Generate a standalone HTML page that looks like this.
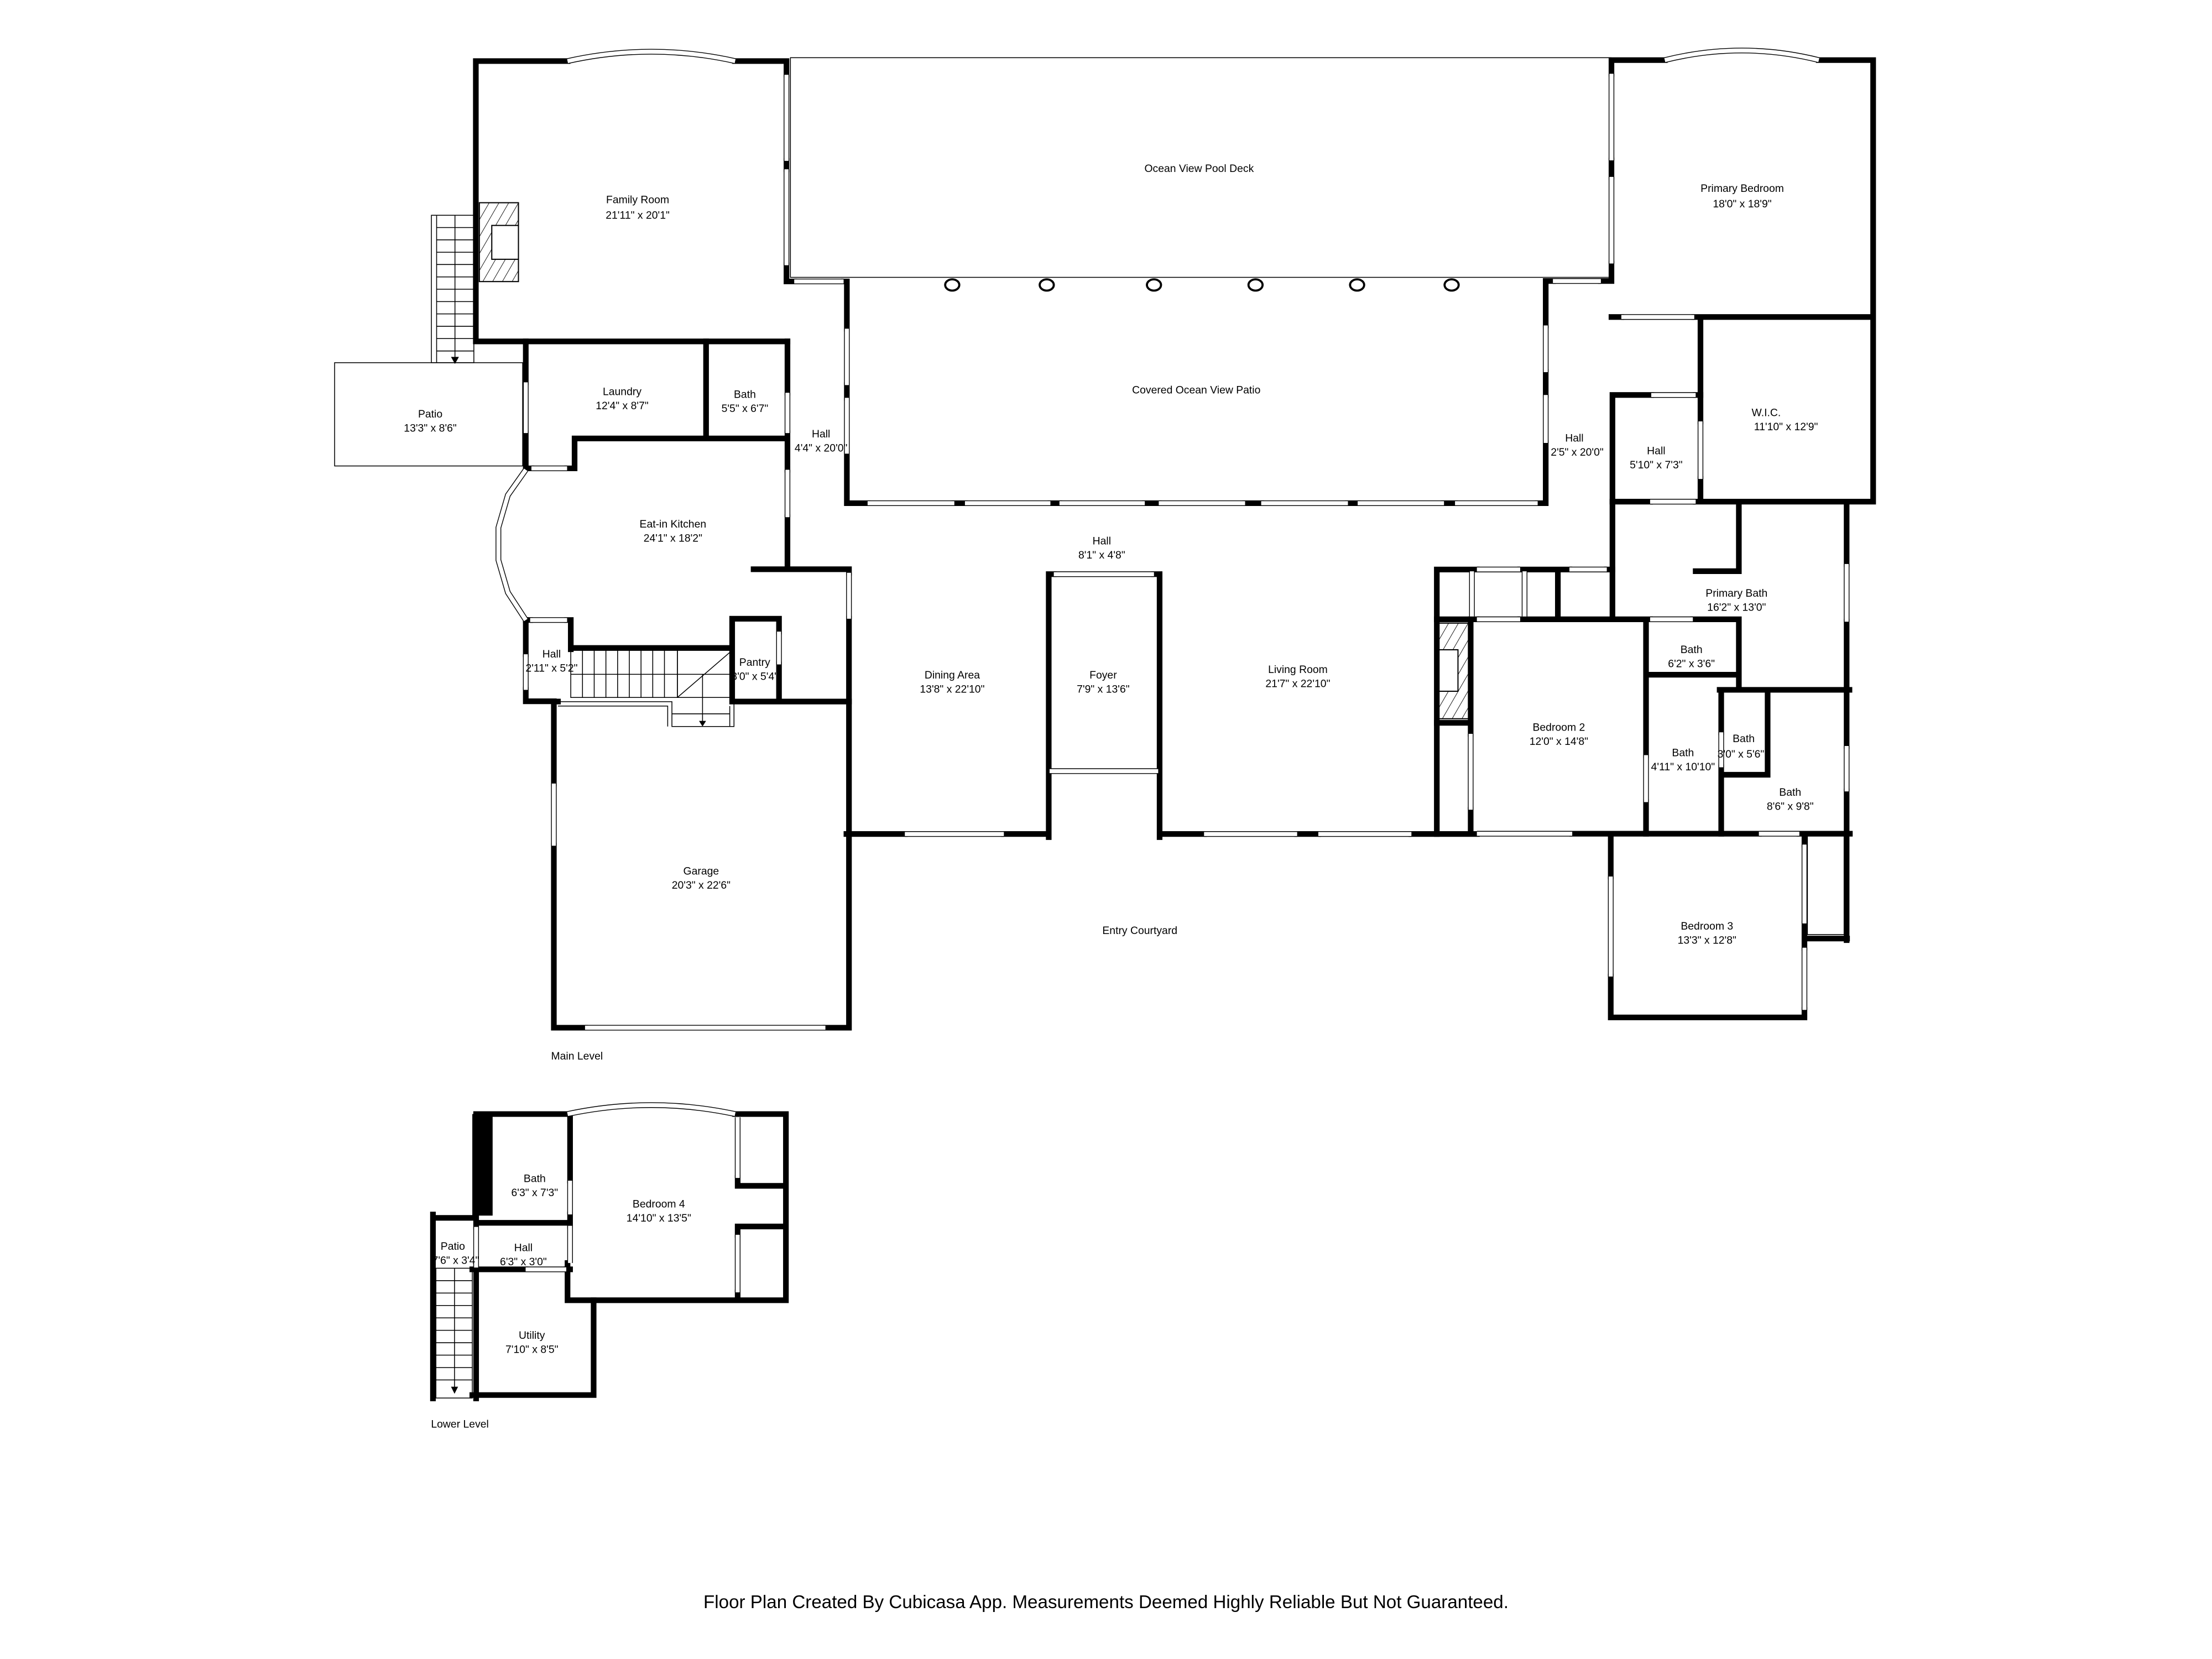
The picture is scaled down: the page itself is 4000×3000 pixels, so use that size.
<!DOCTYPE html>
<html><head><meta charset="utf-8"><style>
html,body{margin:0;padding:0;background:#fff}
svg{display:block}
text{font-family:"Liberation Sans",sans-serif;fill:#000;text-anchor:middle}
</style></head><body>
<svg width="4000" height="3000" viewBox="0 0 1568 1176" preserveAspectRatio="none" xmlns="http://www.w3.org/2000/svg" xmlns:xlink="http://www.w3.org/1999/xlink">
<defs>
<pattern id="h" width="6" height="6" patternUnits="userSpaceOnUse" patternTransform="rotate(30)"><line x1="0" y1="0" x2="0" y2="6" stroke="#000" stroke-width="0.7"/></pattern>
<g id="win" fill="none">
<path d="M402.3,43.3 Q461.7,30 521.1,43.3"/>
<path d="M1180.1,42.6 Q1234.7,29 1289.3,42.6"/>
<path d="M402.3,789.7 Q461.7,777 521.1,789.7"/>
<path d="M372.7,333 L360,351 L353.3,374 L353.3,397 L360,420 L372.7,439.5"/>
<path d="M557.5,53V114M557.5,120V188M563,199.5H598M600.3,233V273M600.3,282V321.6"/>
<path d="M372.7,271V307M376.7,332H402M558.2,278.4V307M558.2,333V366.6M601.8,406V438.6"/>
<path d="M372.7,463.8V489M375.8,439.5H402M552.2,447.7V471M392.6,555.4V599.5M414.7,728.5H585.1"/>
<path d="M615,356.7H676.5M684,356.7H744.6M751,356.7H811.5M821.4,356.7H882.6M894,356.7H955.5M962.4,356.7H1023.6M1031.4,356.7H1090"/>
<path d="M1095.7,230.7V263.8M1095.7,280V314M1100.8,199.2H1134.8"/>
<path d="M1142.3,52.3V113.7M1142.3,125.4V186.8M1149.3,224.7H1201M1205.4,298.7V339.5M1169.7,355.6H1202M1170.5,280H1202"/>
<path d="M1309,399.8V440.7M1309,528.8V561M1046.9,439H1077.6M1169.7,439H1200M1046.9,403.7H1077.6M1112.5,403.7H1139"/>
<path d="M1043.4,405V437M1080.7,405V437M1042.5,520.2V574"/>
<path d="M1166.8,535.3V568.6M1220.1,519.1V543.9M1046.9,591H1114.5M1246.8,591H1275.5"/>
<path d="M1141.8,621.3V692.2M1279.1,598.7V654.6M1279.1,671.8V715.9"/>
<path d="M747,407H818M744,546.6H821M641.4,591.2H711.6M853.5,591.2H919.5M934.5,591.2H1000.5"/>
<path d="M522.9,792V835M522.9,875.3V916.1M337.5,869.7V898.5M404.1,836.9V860.9M404.1,868.9V895.3M372.6,899.8H401.4"/>
</g>
</defs>
<g fill="none" stroke="#000" stroke-width="0.6">
<rect x="560.3" y="40.9" width="581.7" height="155.7"/>
<rect x="237.2" y="257.1" width="133.3" height="73.2"/>
<!-- main stairs left -->
<rect x="305.8" y="152.6" width="30.1" height="104.5"/>
<line x1="309.5" y1="152.6" x2="309.5" y2="257.1"/>
<path d="M309.5,161.3h26.4M309.5,170h26.4M309.5,178.8h26.4M309.5,187.5h26.4M309.5,196.3h26.4M309.5,205h26.4M309.5,213.8h26.4M309.5,222.5h26.4M309.5,231.3h26.4M309.5,240h26.4M309.5,248.8h26.4"/>
<line x1="322.5" y1="152.6" x2="322.5" y2="253"/>
<!-- kitchen stairs -->
<rect x="404.6" y="461" width="75.6" height="33.4"/>
<path d="M412.9,461v33.4M421.2,461v33.4M429.5,461v33.4M437.8,461v33.4M446.1,461v33.4M454.4,461v33.4M462.7,461v33.4M471,461v33.4M404.6,478h75.6"/>
<rect x="480.2" y="461" width="38.8" height="33.4"/>
<path d="M480.2,494.4L519,461M480.2,478H519M498,478V512"/>
<path d="M395.5,497.4H476.3V515H520.3V497.4M395.5,500.5H473.3V515M476.3,506H517M517.3,500.5V515"/>
<!-- lower stairs -->
<rect x="309" y="899" width="25.8" height="92"/>
<path d="M309,907.8h25.8M309,916.6h25.8M309,925.4h25.8M309,934.2h25.8M309,943h25.8M309,951.8h25.8M309,960.6h25.8M309,969.4h25.8M309,978.2h25.8"/>
<line x1="322.2" y1="899" x2="322.2" y2="984"/>
<path d="M1281.2,592.2H1307.2V662.5H1281.2Z"/>
</g>
<polygon points="319.7,253 325.3,253 322.5,258" fill="#000"/>
<polygon points="495.5,511 500.5,511 498,515" fill="#000"/>
<polygon points="319.7,983 324.7,983 322.2,988" fill="#000"/>
<!-- fireplaces -->
<rect x="339.8" y="143.7" width="27.7" height="55.9" fill="url(#h)" stroke="#000" stroke-width="0.8"/>
<rect x="348.6" y="159.8" width="18.9" height="24" fill="#fff" stroke="#000" stroke-width="0.8"/>
<rect x="1018" y="441.7" width="23.5" height="67.8" fill="url(#h)" stroke="#000" stroke-width="0.8"/>
<rect x="1018" y="460.6" width="15.5" height="29.4" fill="#fff" stroke="#000" stroke-width="0.8"/>
<g fill="none" stroke="#000" stroke-width="1.5">
<ellipse cx="675" cy="202" rx="5" ry="4"/><ellipse cx="742" cy="202" rx="5" ry="4"/><ellipse cx="818" cy="202" rx="5" ry="4"/><ellipse cx="890" cy="202" rx="5" ry="4"/><ellipse cx="962" cy="202" rx="5" ry="4"/><ellipse cx="1029" cy="202" rx="5" ry="4"/>
</g>
<!-- walls -->
<g fill="none" stroke="#000" stroke-width="4" stroke-linecap="square">
<path d="M402.3,43.3H337.3V242H558.2 M521.1,43.3H557.5V53 M557.5,114V120 M557.5,188V199.5H563 M598,199.5H600.3V233 M600.3,273V282 M600.3,321.6V356.7H615"/>
<path d="M372.7,242V271M372.7,307V332H376.7M402,332H407.3V310.8H558.2M500.5,242V310.8M558.2,242V278.4M558.2,307V333M558.2,366.6V403.5"/>
<path d="M534.2,403.5H601.8V406M601.8,438.6V728.5H585.1M414.7,728.5H392.6V599.5M392.6,555.4V497.3H395.5M372.7,439.5V463.8M372.7,489V497.1H392.6"/>
<path d="M372.7,439.5H375.8M402,439.5H404.6V460.2M404.6,459.3H519V438.6H552.2V447.7M552.2,471V497.1M519,438.6V497.3H601.8"/>
<path d="M676.5,356.7H684M744.6,356.7H751M811.5,356.7H821.4M882.6,356.7H894M955.5,356.7H962.4M1023.6,356.7H1031.4M1090,356.7H1095.7V314M1095.7,280V263.8M1095.7,230.7V199.2H1100.8M1134.8,199.2H1142.3V186.8"/>
<path d="M1142.3,113.7V125.4M1142.3,52.3V42.6H1180.1M1289.3,42.6H1327.8V355.6H1202M1142.3,224.7H1149.3M1201,224.7H1327.8M1205.4,224.7V298.7M1205.4,339.5V355.6M1169.7,355.6H1143"/>
<path d="M1143,280V439M1143,280H1170.5M1202,280H1205.4M1232.6,355.6V404.9H1202M1309,355.6V399.8M1309,440.7V528.8M1309,561V666.4"/>
<path d="M1018.5,403.7H1046.9M1077.6,403.7H1112.5M1139,403.7H1143M1104.3,403.7V439M1018.5,403.7V591.2"/>
<path d="M1018.5,439H1046.9M1077.6,439H1169.7M1200,439H1232.6V489M1166.8,439V535.3M1166.8,568.6V591M1166.8,478.3H1232.6M1219,489H1311M1220.1,489V519.1M1220.1,543.9V591M1253,489V549.2H1220.1"/>
<path d="M1042.5,439V520.2M1042.5,574V591M1018.5,512.4H1042.5"/>
<path d="M1000.5,591.2H1046.9M1114.5,591H1246.8M1275.5,591H1311.3M1141.8,591V621.3M1141.8,692.2V721.2H1279.1V715.9M1279.1,671.8V654.6M1279.1,598.7V591M1279.1,665.3H1309.3"/>
<path d="M743.4,407V593.4M822,407V593.4M743.4,407H747M818,407H822M600,591.2H641.4M711.6,591.2H743.4M822,591.2H853.5M919.5,591.2H934.5"/>
<!-- lower level -->
<path d="M402.3,789.7H337.5V869.7M337.5,898.5V991.3M521.1,789.7H557.1V921.7H402.3V895.3M404.1,789.7V836.9M404.1,860.9V868.9M337.5,866.8H404.1M522.9,835V840.6H557.1M522.9,869.4H557.1M522.9,869.4V875.3M522.9,916.1V921.7"/>
<path d="M334.8,899.8H372.6M401.4,899.8H404.1M420.8,921.7V988.9H334.8M306.9,860.9V991.3M306.9,863.3H337.5"/>
</g>
<rect x="334.8" y="789.7" width="14.4" height="72" fill="#000"/>
<!-- windows -->
<g stroke="#000" stroke-width="4" fill="none"><use xlink:href="#win" href="#win"/></g>
<g stroke="#fff" stroke-width="2.9" fill="none"><use xlink:href="#win" href="#win"/></g>
<g font-size="7.6">
<text x="452" y="144">Family Room</text><text x="452" y="155">21'11" x 20'1"</text>
<text x="850" y="122">Ocean View Pool Deck</text>
<text x="1235" y="136">Primary Bedroom</text><text x="1235" y="147">18'0" x 18'9"</text>
<text x="305" y="296">Patio</text><text x="305" y="306">13'3" x 8'6"</text>
<text x="441" y="280">Laundry</text><text x="441" y="290">12'4" x 8'7"</text>
<text x="528" y="282">Bath</text><text x="528" y="292">5'5" x 6'7"</text>
<text x="582" y="310">Hall</text><text x="582" y="320">4'4" x 20'0"</text>
<text x="848" y="279">Covered Ocean View Patio</text>
<text x="1116" y="313">Hall</text><text x="1118" y="323">2'5" x 20'0"</text>
<text x="1174" y="322">Hall</text><text x="1174" y="332">5'10" x 7'3"</text>
<text x="1252" y="295">W.I.C.</text><text x="1266" y="305">11'10" x 12'9"</text>
<text x="477" y="374">Eat-in Kitchen</text><text x="477" y="384">24'1" x 18'2"</text>
<text x="781" y="386">Hall</text><text x="781" y="396">8'1" x 4'8"</text>
<text x="1231" y="423">Primary Bath</text><text x="1231" y="433">16'2" x 13'0"</text>
<text x="391" y="466">Hall</text><text x="391" y="476">2'11" x 5'2"</text>
<text x="535" y="472">Pantry</text><text x="535" y="482">3'0" x 5'4"</text>
<text x="675" y="481">Dining Area</text><text x="675" y="491">13'8" x 22'10"</text>
<text x="782" y="481">Foyer</text><text x="782" y="491">7'9" x 13'6"</text>
<text x="920" y="477">Living Room</text><text x="920" y="487">21'7" x 22'10"</text>
<text x="1199" y="463">Bath</text><text x="1199" y="473">6'2" x 3'6"</text>
<text x="1105" y="518">Bedroom 2</text><text x="1105" y="528">12'0" x 14'8"</text>
<text x="1236" y="526">Bath</text><text x="1234" y="537">3'0" x 5'6"</text>
<text x="1193" y="536">Bath</text><text x="1193" y="546">4'11" x 10'10"</text>
<text x="1269" y="564">Bath</text><text x="1269" y="574">8'6" x 9'8"</text>
<text x="497" y="620">Garage</text><text x="497" y="630">20'3" x 22'6"</text>
<text x="808" y="662">Entry Courtyard</text>
<text x="1210" y="659">Bedroom 3</text><text x="1210" y="669">13'3" x 12'8"</text>
<text x="409" y="751">Main Level</text>
<text x="379" y="838">Bath</text><text x="379" y="848">6'3" x 7'3"</text>
<text x="467" y="856">Bedroom 4</text><text x="467" y="866">14'10" x 13'5"</text>
<text x="321" y="886">Patio</text><text x="323" y="896">7'6" x 3'4"</text>
<text x="371" y="887">Hall</text><text x="371" y="897">6'3" x 3'0"</text>
<text x="377" y="949">Utility</text><text x="377" y="959">7'10" x 8'5"</text>
<text x="326" y="1012">Lower Level</text>
</g>
<text x="784" y="1140" font-size="13">Floor Plan Created By Cubicasa App. Measurements Deemed Highly Reliable But Not Guaranteed.</text>
</svg>
</body></html>
